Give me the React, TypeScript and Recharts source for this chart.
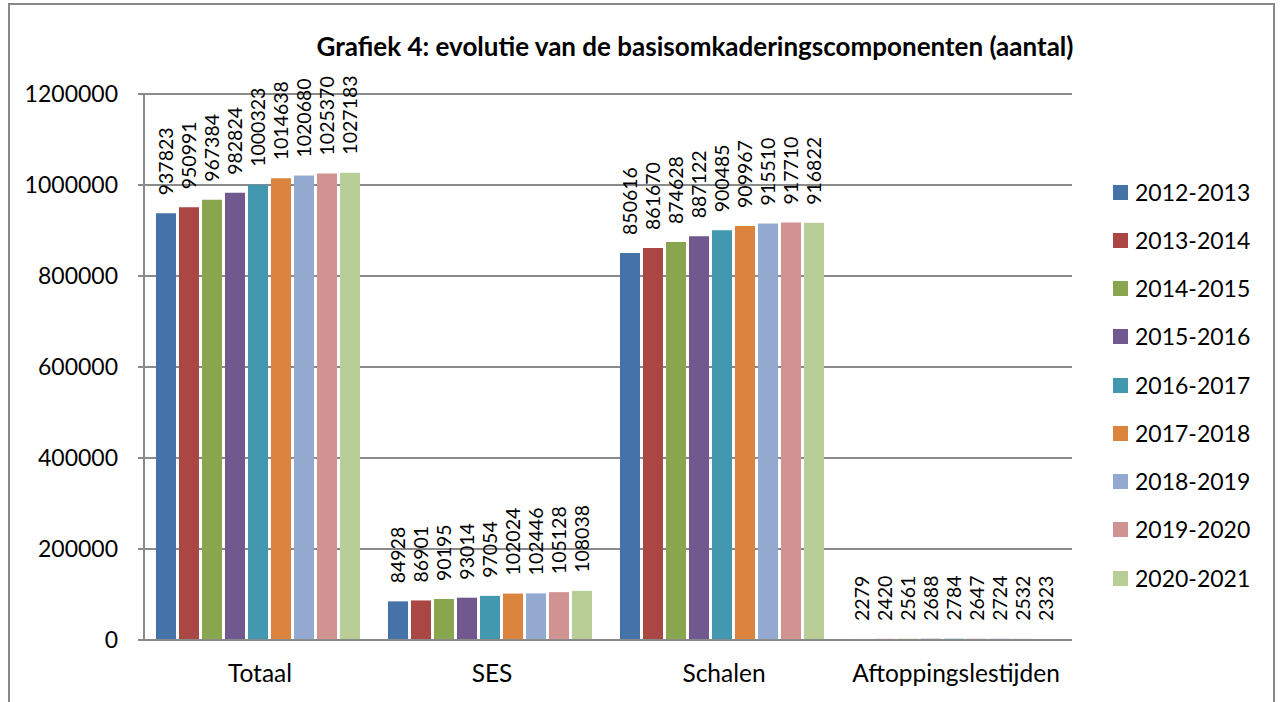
import React from "react";
import { BarChart, Bar, XAxis, YAxis, CartesianGrid, Legend, LabelList } from "recharts";

const categories = ["Totaal", "SES", "Schalen", "Aftoppingslestijden"];
const years = ["2012-2013", "2013-2014", "2014-2015", "2015-2016", "2016-2017", "2017-2018", "2018-2019", "2019-2020", "2020-2021"];
const s2012 = [937823, 84928, 850616, 2279];
const s2013 = [950991, 86901, 861670, 2420];
const s2014 = [967384, 90195, 874628, 2561];
const s2015 = [982824, 93014, 887122, 2688];
const s2016 = [1000323, 97054, 900485, 2784];
const s2017 = [1014638, 102024, 909967, 2647];
const s2018 = [1020680, 102446, 915510, 2724];
const s2019 = [1025370, 105128, 917710, 2532];
const s2020 = [1027183, 108038, 916822, 2323];
const yTicks = [0, 200000, 400000, 600000, 800000, 1000000, 1200000];
const title = "Grafiek 4: evolutie van de basisomkaderingscomponenten (aantal)";

const seriesValues = [s2012, s2013, s2014, s2015, s2016, s2017, s2018, s2019, s2020];
const colors = ["#4572A7", "#AA4643", "#89A54E", "#71588F", "#4198AF", "#DB843D", "#93A9CF", "#D19392", "#B9CD96"];

const data = categories.map((c, i) => {
  const row: Record<string, any> = { name: c };
  years.forEach((y, j) => {
    row[y] = seriesValues[j][i];
  });
  return row;
});

const FONT = "Lato, 'Open Sans', sans-serif";

const RotLabel = (props: any) => {
  const { x, y, width, value } = props;
  const cx = x + width / 2;
  const ty = y - 18;
  return (
    <text
      x={cx}
      y={ty}
      transform={`rotate(-90 ${cx} ${ty})`}
      textAnchor="start"
      dominantBaseline="central"
      fontSize={19.5}
      fontFamily={FONT}
      fill="#000"
    >
      {value}
    </text>
  );
};

const LegendContent = () => (
  <div style={{ fontFamily: FONT, fontSize: 23, color: "#000" }}>
    {years.map((y, i) => (
      <div key={y} style={{ height: 48.25, display: "flex", alignItems: "center" }}>
        <span style={{ display: "inline-block", width: 15, height: 15, background: colors[i], marginRight: 7 }} />
        <span style={{ lineHeight: "23px" }}>{y}</span>
      </div>
    ))}
  </div>
);

export default function App() {
  return (
    <div style={{ position: "absolute", left: 0, top: 0, width: 1280, height: 702, overflow: "hidden", background: "#fff" }}>
      <div
        style={{
          position: "absolute",
          left: 8,
          top: 3,
          width: 1267,
          height: 720,
          border: "2px solid #888",
          boxSizing: "border-box",
        }}
      />
      <div
        style={{
          position: "absolute",
          left: 0,
          width: 1390,
          top: 30,
          textAlign: "center",
          fontFamily: FONT,
          fontWeight: 700,
          fontSize: 26,
          color: "#000",
          lineHeight: "32px",
        }}
      >
        {title}
      </div>
      <div style={{ position: "absolute", left: 0, top: 0 }}>
        <BarChart
          width={1280}
          height={702}
          data={data}
          margin={{ top: 94, right: 48, left: 8, bottom: 22 }}
          barCategoryGap={12}
          barGap={3}
        >
          <CartesianGrid vertical={false} stroke="#8a8a8a" strokeWidth={2} />
          <XAxis
            dataKey="name"
            height={40}
            tickLine={false}
            tickMargin={19}
            axisLine={{ stroke: "#8a8a8a", strokeWidth: 2 }}
            tick={{ fill: "#000", fontSize: 24.5, fontFamily: FONT }}
            interval={0}
          />
          <YAxis
            width={136}
            domain={[0, 1200000]}
            ticks={yTicks}
            tickSize={6}
            tickMargin={20}
            axisLine={{ stroke: "#8a8a8a", strokeWidth: 2 }}
            tickLine={{ stroke: "#8a8a8a", strokeWidth: 2 }}
            tick={{ fill: "#000", fontSize: 23, fontFamily: FONT }}
            interval={0}
          />
          <Legend
            layout="vertical"
            align="right"
            verticalAlign="top"
            content={LegendContent}
            wrapperStyle={{ position: "absolute", left: 1113, top: 168, width: 160 }}
          />
          {years.map((y, i) => (
            <Bar key={y} dataKey={y} fill={colors[i]} isAnimationActive={false}>
              <LabelList dataKey={y} content={RotLabel} />
            </Bar>
          ))}
        </BarChart>
      </div>
    </div>
  );
}
